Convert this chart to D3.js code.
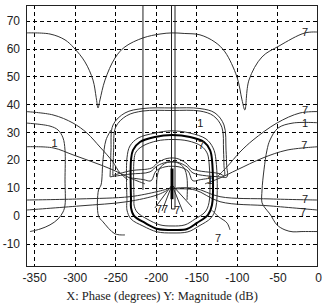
<!DOCTYPE html>
<html>
<head>
<meta charset="utf-8">
<script src="https://cdn.jsdelivr.net/npm/d3@7"></script>
<style>
  body { margin: 0; background: #fff; }
  svg { display: block; }
</style>
</head>
<body>
<script>
// Nichols chart, phase (deg) vs magnitude (dB)
var xTicks = [-350, -300, -250, -200, -150, -100, -50, 0];
var yTicks = [-10, 0, 10, 20, 30, 40, 50, 60, 70];

// thin contour lines, [phase, dB]
var topCurve = [[-360,65.6],[-330.4,65.2],[-311.9,63.1],[-300.8,60.2],[-287.3,55.2],[-277.4,48.7],[-273.5,42.5],[-271.2,38.7],
  [-268.8,41.6],[-262.6,48.7],[-250.3,56.6],[-238,60.6],[-215.8,63.8],[-194.8,65.2],[-180,65.6],[-165,65.4],[-145.5,64.9],
  [-127,62.3],[-114.7,58.8],[-99.9,49.8],[-93.7,41.6],[-90.2,38],[-85.1,48.7],[-69,57],[-48.1,60.9],[-16,65.6],[0,65.9]];
var leftB = [[-360,37.4],[-326.7,36.2],[-302.1,33.3],[-284.8,29.7],[-268.8,24.7],[-260.1,21.9],[-252.7,19.3],[-244.1,15.4],[-234.2,12.9]];
var rightB = [[0,37.4],[-22.2,36.9],[-50.6,33.3],[-80.1,27.2],[-96.2,22.9],[-112.2,17.6],[-123.3,14.3]];
var leftC = [[-360,33.3],[-330.4,32.2],[-320.5,30.8],[-314.4,28],[-311.9,23.6],[-311.9,12.9],[-311.9,3.9],[-314.4,1.4],
  [-320.5,-1.1],[-330.4,-3.2],[-342.7,-4.7],[-355.1,-5.6]];
var rightC = [[0,33.4],[-30.8,33.3],[-49.3,31.5],[-59.2,27.2],[-62.9,23.6],[-66.6,16.5],[-69,9.3],[-69,4.7],[-65.4,2.9],
  [-59.2,0.7],[-50.6,-3.2],[-40.7,-5],[-30.8,-5.7],[-20.9,-5.6],[0,-5.6]];
var leftD = [[-360,24.8],[-326.7,24.4],[-302.1,21.9],[-277.4,19.3],[-252.7,16.5],[-231.8,13.6],[-213.3,11.5]];
var rightD = [[0,24.8],[-38.2,23.6],[-67.8,20.8],[-99.9,16.5],[-120.8,13.6],[-139.3,11.5]];
var leftE = [[-360,5.7],[-293.4,6.1],[-231.8,6.9],[-198.5,8.7],[-185.1,9.7]];
var leftF = [[-360,2.1],[-293.4,3.6],[-235.5,5.1],[-198.5,7.5],[-185.1,9.3]];
var rightE = [[-175.1,10],[-151.6,9.9],[-120.8,6.9],[-59.2,6.1],[0,5.7]];
var rightF = [[-175.1,9.7],[-151.6,9.3],[-120.8,5.1],[-59.2,3.6],[0,2.1]];
var outerLoopA = [[-256.4,14],[-255.6,20],[-255.2,23.6],[-252.7,32.6],[-238,36.9],[-215.8,38.5],[-180,38.7],[-145.5,38.5],[-127,36.9],
  [-115.9,32.6],[-113.4,23.6],[-112.6,18],[-112.2,14],[-120.8,14],[-154.1,15.4],[-161.5,17.6],[-173.8,19.3],[-186.2,19.3],
  [-198.5,17.9],[-207.1,15.8],[-231.8,15],[-256.4,14]];
var outerLoopB = [[-253,14.5],[-252.4,20],[-252,23.6],[-249.5,31.8],[-236,35.9],[-215.8,37.6],[-180,37.8],[-145.5,37.6],[-129,35.9],
  [-118.5,31.8],[-116.5,23.6],[-115.9,18],[-115.5,14.5],[-122,15.2],[-155,16.8],[-163,19],[-174,20.6],[-186,20.6],[-197,19.2],
  [-205,17.2],[-231,16.2],[-253,14.5]];
var leftLoopSide = [[-255.2,30.8],[-261.4,27.2],[-265.1,20.1],[-267.5,11.1],[-270.6,9.3],[-270.6,0],[-265.1,-2.1],[-250.3,-6.4],[-238,-6.8]];
var uOuter = [[-235.5,5.7],[-235.5,20.8],[-231.8,25.1],[-221.9,27.9],[-201,29.7],[-180,30.5],[-157.8,29.7],[-138.1,27.6],
  [-129.4,24.4],[-125.8,20.1],[-125.8,3.2],[-131.9,-0.7],[-146.7,-3.6],[-160.3,-5.7],[-180,-6.1],[-198.5,-5.7],
  [-215.8,-3.6],[-230.5,-1.1],[-235.5,2.1],[-235.5,5.7]];
var uInner = [[-226.8,5.7],[-226.8,20.1],[-224.4,22.9],[-215.8,25.1],[-198.5,26.9],[-180,27.4],[-160.3,26.9],[-144.2,25.1],
  [-136.8,22.6],[-134.4,19.3],[-134.4,4.7],[-139.3,1.4],[-151.6,-1.1],[-164,-3.2],[-180,-3.6],[-194.8,-3.2],
  [-210.8,-1.1],[-223.1,1.4],[-226.8,3.9],[-226.8,5.7]];
var innerLoop = [[-198.5,5.7],[-198.5,13.6],[-194.8,17.2],[-187.4,19],[-180,19.3],[-172.6,19],[-165.2,17.2],[-161.5,13.6],[-161.5,5.7]];
var innerBump = [[-230.5,13.6],[-215,13],[-207.1,12.5],[-204.7,12.9],[-199.7,16.1],[-188.6,17.6],[-180,17.8],[-171.4,17.6],
  [-160.3,16.1],[-155.4,12.9],[-152.9,12.5],[-145,13],[-130.7,13.6]];
var fan1 = [[-180,11.1],[-201,2.9]];
var fan2 = [[-180,11.1],[-192.3,1.8]];
var fan3 = [[-180,11.1],[-166.4,1.4]];
var fan4 = [[-180,11.1],[-155.3,3.2]];
var tailRight = [[-130.7,2],[-122.4,-0.3],[-112.2,-2.5],[-108.5,-5]];
var thinLines = [topCurve, leftB, rightB, leftC, rightC, leftD, rightD, leftE, leftF, rightE, rightF,
  outerLoopA, outerLoopB, leftLoopSide, uOuter, uInner, innerLoop, innerBump, fan1, fan2, fan3, fan4, tailRight];

// thick contour
var uThick = [[-230.5,5.7],[-230.5,20.1],[-228.1,23.6],[-219.5,26.5],[-201,28.3],[-180,29],[-157.8,28.3],[-140.5,26.5],
  [-133.1,23.6],[-130.7,20.1],[-130.7,3.9],[-135.6,0.4],[-149.2,-2.5],[-161.5,-4.7],[-180,-5],[-197.3,-4.7],
  [-213.3,-2.5],[-226.8,0],[-230.5,2.9],[-230.5,5.7]];
var spike = [[-180,17],[-180,6]];

// straight vertical lines
var vLineA = [[-215.8,75.6],[-215.8,9.3]];
var vLineB = [[-180.6,75.6],[-180.6,2.5],[-176.3,2.5],[-176.3,75.6]];

// contour labels [phase, dB, text]
var labels = [[-16,65.8,"7"],[-16,37.8,"7"],[-16,33.2,"1"],[-17,25.2,"7"],[-16,5.9,"7"],[-18.5,1.3,"7"],
  [-324.9,26.2,"1"],[-145.1,33.2,"1"],[-144,25.5,"7"],[-192.3,2.4,"77"],[-173.8,2.1,"7"],[-133.1,12.9,"1"],
  [-123.3,-7.9,"7"]];

var W = 324, H = 306;
var svg = d3.select('body').append('svg')
  .attr('width', W)
  .attr('height', H);

var x = d3.scaleLinear().domain([-360, 0]).range([26, 318]);
var y = d3.scaleLinear().domain([-18.3, 75.6]).range([267, 5]);

var clip = svg.append('clipPath').attr('id', 'plot')
  .append('rect').attr('x', 26).attr('y', 5).attr('width', 292).attr('height', 262);

// grid
var grid = svg.append('g').attr('stroke', '#000').attr('stroke-width', 1).attr('stroke-dasharray', '4,3');
grid.selectAll('.gx').data(xTicks.slice(0, -1)).enter().append('line')
  .attr('x1', function(d) { return Math.round(x(d)) + 0.5; })
  .attr('x2', function(d) { return Math.round(x(d)) + 0.5; })
  .attr('y1', 5).attr('y2', 267);
grid.selectAll('.gy').data(yTicks).enter().append('line')
  .attr('y1', function(d) { return Math.round(y(d)) + 0.5; })
  .attr('y2', function(d) { return Math.round(y(d)) + 0.5; })
  .attr('x1', 26).attr('x2', 318);

var line = d3.line()
  .x(function(d) { return x(d[0]); })
  .y(function(d) { return y(d[1]); })
  .curve(d3.curveCatmullRom.alpha(0.5));
var straight = d3.line()
  .x(function(d) { return x(d[0]); })
  .y(function(d) { return y(d[1]); });

var plot = svg.append('g').attr('clip-path', 'url(#plot)');

plot.selectAll('.thin').data(thinLines).enter().append('path')
  .attr('d', line)
  .attr('fill', 'none')
  .attr('stroke', '#333')
  .attr('stroke-width', 1);

plot.selectAll('.vl').data([vLineA, vLineB]).enter().append('path')
  .attr('d', straight)
  .attr('fill', 'none')
  .attr('stroke', '#222')
  .attr('stroke-width', 1);

plot.append('path').datum(uThick)
  .attr('d', line)
  .attr('fill', 'none')
  .attr('stroke', '#000')
  .attr('stroke-width', 2);

plot.append('path').datum(spike)
  .attr('d', straight)
  .attr('stroke', '#000')
  .attr('stroke-width', 3);

plot.selectAll('.lab').data(labels).enter().append('text')
  .attr('x', function(d) { return x(d[0]); })
  .attr('y', function(d) { return y(d[1]); })
  .attr('dy', '0.35em')
  .attr('text-anchor', 'middle')
  .style('font-family', 'Liberation Sans, Arial, sans-serif')
  .style('font-size', '11px')
  .style('fill', '#222')
  .text(function(d) { return d[2]; });

// frame
svg.append('rect')
  .attr('x', 26.5).attr('y', 5.5).attr('width', 291).attr('height', 261)
  .attr('fill', 'none').attr('stroke', '#222').attr('stroke-width', 1);

var xAxis = svg.append('g')
  .attr('transform', 'translate(0,267)')
  .call(d3.axisBottom(x).tickValues(xTicks).tickSize(0).tickPadding(6).tickFormat(function(d) { return String(d); }));
var yAxis = svg.append('g')
  .attr('transform', 'translate(26,0)')
  .call(d3.axisLeft(y).tickValues(yTicks).tickSize(0).tickPadding(6).tickFormat(function(d) { return String(d); }));
[xAxis, yAxis].forEach(function(a) {
  a.select('.domain').remove();
  a.selectAll('text')
    .style('font-family', 'Liberation Sans, Arial, sans-serif')
    .style('font-size', '12px')
    .style('fill', '#222');
});

svg.append('text')
  .attr('x', 162).attr('y', 300)
  .attr('text-anchor', 'middle')
  .style('font-family', 'Liberation Serif, Times New Roman, serif')
  .style('font-size', '12.5px')
  .style('fill', '#222')
  .text('X: Phase (degrees)  Y: Magnitude (dB)');
</script>
</body>
</html>
